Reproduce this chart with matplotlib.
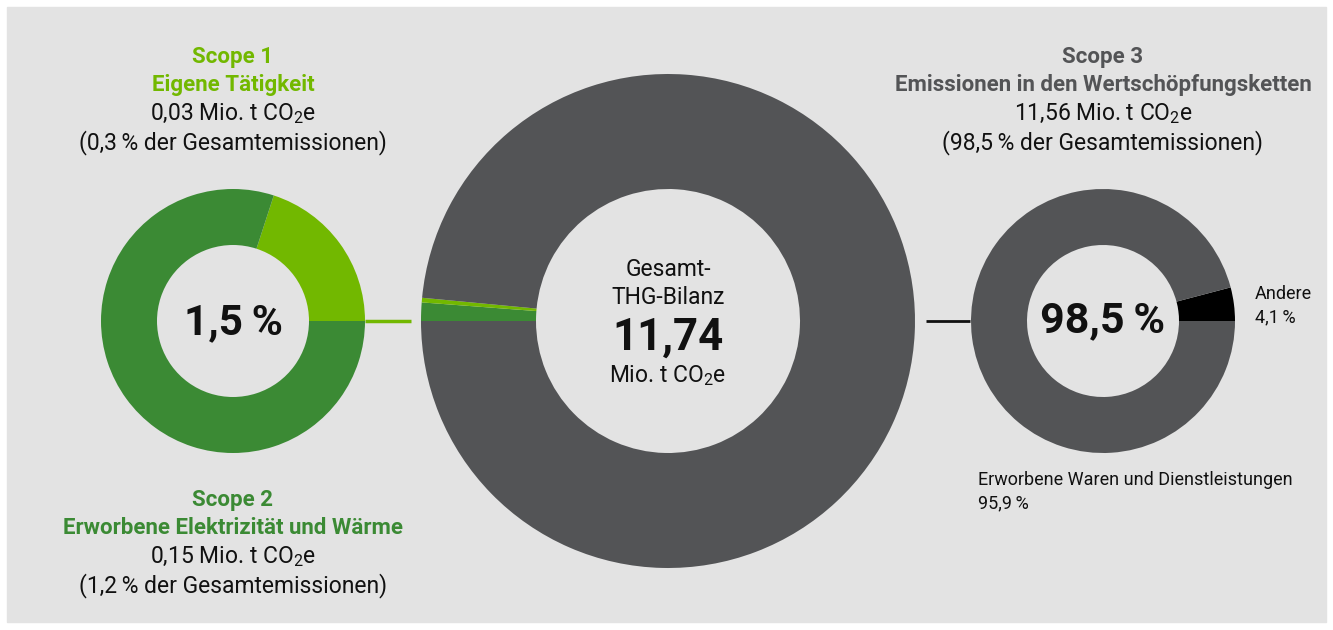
import matplotlib.pyplot as plt
from matplotlib import font_manager
from matplotlib.patches import Rectangle

# data
scope_labels = ['Scope 1', 'Scope 2', 'Scope 3']
scope_names = ['Eigene Tätigkeit', 'Erworbene Elektrizität und Wärme',
               'Emissionen in den Wertschöpfungsketten']
scope_mio_t = [0.03, 0.15, 11.56]
scope_share = [0.3, 1.2, 98.5]
total_mio_t = 11.74
scope3_parts = ['Andere', 'Erworbene Waren und Dienstleistungen']
scope3_share = [4.1, 95.9]

LIGHT = '#72b800'
GREEN = '#3b8a34'
GREY = '#535456'
BG = '#e3e3e3'

names = {f.name for f in font_manager.fontManager.ttflist}
FONT = next(f for f in ['Liberation Sans Narrow', 'Roboto', 'Liberation Sans', 'DejaVu Sans'] if f in names)
plt.rcParams['font.family'] = FONT
plt.rcParams['mathtext.fontset'] = 'custom'
plt.rcParams['mathtext.rm'] = FONT

W, H = 1333, 630
fig = plt.figure(figsize=(W / 100, H / 100), dpi=100)
fig.patches.append(Rectangle((7, 8), 1319, 615, transform=None, color=BG, zorder=-10))
ax = fig.add_axes([0, 0, 1, 1])
ax.set_axis_off()
ax.patch.set_visible(False)


def Y(py):
    return H - py


def de(v, n):
    return f'{v:.{n}f}'.replace('.', ',')


co2 = r'Mio. t CO$_{\mathrm{2}}$e'
fs = 16.5
fsb = 16

# left donut: scope 1 + scope 2
ax.pie([scope_share[0], scope_share[1]], colors=[LIGHT, GREEN], startangle=0,
       center=(233, Y(321)), radius=132,
       wedgeprops=dict(width=56, edgecolor='none'))
# central donut
ax.pie([scope_share[1], scope_share[0], scope_share[2]], colors=[GREEN, LIGHT, GREY],
       startangle=180, counterclock=False, center=(668, Y(321)), radius=247,
       wedgeprops=dict(width=115, edgecolor='none'))
# right donut: scope 3 split
ax.pie(scope3_share, colors=['#000000', GREY], startangle=0,
       center=(1103, Y(321)), radius=132,
       wedgeprops=dict(width=56, edgecolor='none'))

ax.plot([365, 411], [Y(321), Y(321)], color=LIGHT, lw=2.5, solid_capstyle='butt')
ax.plot([926, 970], [Y(321), Y(321)], color='#111111', lw=2, solid_capstyle='butt')

ax.set_xlim(0, W)
ax.set_ylim(0, H)
ax.set_aspect('auto')

# centre labels
ax.text(233, Y(323), de(scope_share[0] + scope_share[1], 1) + '\u2009%', ha='center', va='center',
        fontsize=30.5, fontweight='bold', color='#111111')
ax.text(1103, Y(321), de(scope_share[2], 1) + '\u2009%', ha='center', va='center',
        fontsize=31, fontweight='bold', color='#111111')
ax.text(668, Y(270), 'Gesamt-', ha='center', va='center', fontsize=fs, color='#111111')
ax.text(668, Y(298), 'THG-Bilanz', ha='center', va='center', fontsize=fs, color='#111111')
ax.text(668, Y(338), de(total_mio_t, 2), ha='center', va='center', fontsize=31.5,
        fontweight='bold', color='#111111')
ax.text(668, Y(376), co2, ha='center', va='center', fontsize=fs, color='#111111')


def block(x, y0, i, color):
    ax.text(x, Y(y0), scope_labels[i], ha='center', va='center', fontsize=fsb,
            fontweight='bold', color=color)
    ax.text(x, Y(y0 + 28), scope_names[i], ha='center', va='center', fontsize=fsb,
            fontweight='bold', color=color)
    ax.text(x, Y(y0 + 57), de(scope_mio_t[i], 2) + ' ' + co2, ha='center', va='center',
            fontsize=fs, color='#111111')
    ax.text(x, Y(y0 + 86), '(' + de(scope_share[i], 1) + '\u2009% der Gesamtemissionen)',
            ha='center', va='center', fontsize=fs, color='#111111')


block(233, 57, 0, LIGHT)
block(233, 500, 1, GREEN)
block(1103, 57, 2, GREY)

ax.text(1255, Y(294), scope3_parts[0], ha='left', va='center', fontsize=13, color='#111111')
ax.text(1255, Y(317), de(scope3_share[0], 1) + '\u2009%', ha='left', va='center',
        fontsize=13, color='#111111')
ax.text(978, Y(480), scope3_parts[1], ha='left', va='center', fontsize=13, color='#111111')
ax.text(978, Y(503), de(scope3_share[1], 1) + '\u2009%', ha='left', va='center',
        fontsize=13, color='#111111')

fig.savefig('out.png', dpi=100, facecolor='white')
